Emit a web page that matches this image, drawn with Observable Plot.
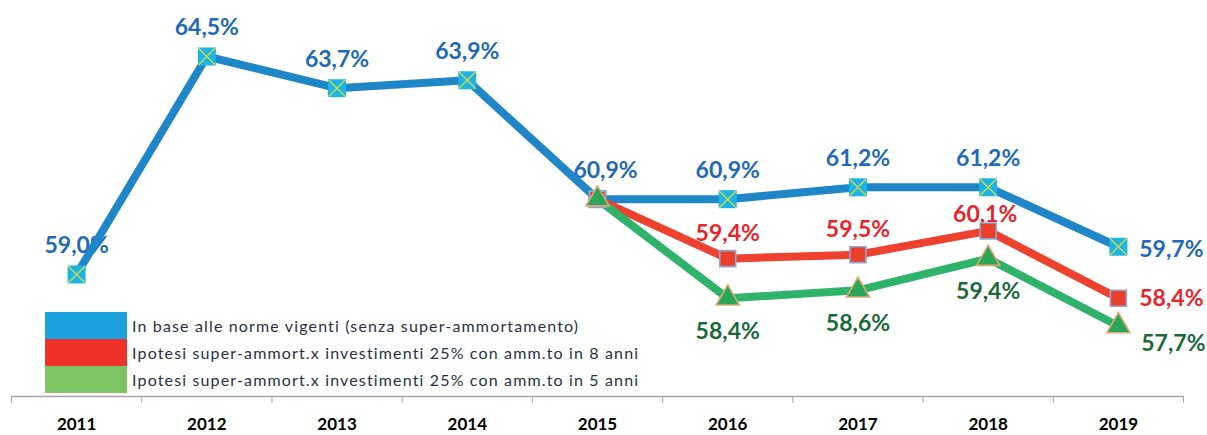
<!DOCTYPE html>
<html><head><meta charset="utf-8">
<script src="https://cdn.jsdelivr.net/npm/d3@7"></script>
<script src="https://cdn.jsdelivr.net/npm/@observablehq/plot@0.6"></script>
<style>
body{margin:0;background:#fff;font-family:Lato,sans-serif;}
#wrap{position:relative;width:1207px;height:435px;}
#legend{position:absolute;left:45px;top:312px;}
.row{display:flex;align-items:center;height:27px;}
.sw{width:82px;height:27px;}
.lab{margin-left:5px;font-size:16px;letter-spacing:1.15px;color:#2a3045;white-space:nowrap;}
</style></head><body><div id="wrap"><div id="legend"></div></div>
<script>
const years = [2011, 2012, 2013, 2014, 2015, 2016, 2017, 2018, 2019];
const baseValues = [59.0, 64.5, 63.7, 63.9, 60.9, 60.9, 61.2, 61.2, 59.7];
const hypYears = [2015, 2016, 2017, 2018, 2019];
const hyp8Values = [60.9, 59.4, 59.5, 60.1, 58.4];
const hyp5Values = [60.9, 58.4, 58.6, 59.4, 57.7];
const seriesNames = [
  "In base alle norme vigenti (senza super-ammortamento)",
  "Ipotesi super-ammort.x investimenti 25% con amm.to in 8 anni",
  "Ipotesi super-ammort.x investimenti 25% con amm.to in 5 anni"
];
const legendColors = ["#1ba1de", "#ee3129", "#7ec462"];
const boundaries = [2010.5, 2011.5, 2012.5, 2013.5, 2014.5, 2015.5, 2016.5, 2017.5, 2018.5, 2019.5];

const fmt = v => v.toFixed(1).replace(".", ",") + "%";
const yMin = 55.922, yMax = 65.913;
const base = years.map((x, i) => ({x, y: baseValues[i]}));
const h8 = hypYears.map((x, i) => ({x, y: hyp8Values[i]}));
const h5 = hypYears.map((x, i) => ({x, y: hyp5Values[i]}));
const lbl = {fontSize: 23, fontWeight: "bold", text: d => fmt(d.y), x: "x", y: "y"};
const blueC = "#2169b6", redC = "#e8242b", greenC = "#19693a";

const chart = Plot.plot({
  width: 1207, height: 435,
  marginTop: 0, marginBottom: 39, marginLeft: 11, marginRight: 24,
  x: {type: "linear", domain: [2010.5, 2019.5], label: null},
  y: {domain: [yMin, yMax], axis: null},
  style: {fontFamily: "Lato, sans-serif", background: "white"},
  marks: [
    Plot.ruleY([yMin], {stroke: "#a6a6a6", strokeWidth: 1.3}),
    Plot.axisX({ticks: boundaries, tickSize: 7, tickFormat: () => "", stroke: "#a6a6a6", label: null}),
    Plot.axisX({ticks: years, tickSize: 0, tickPadding: 21, tickFormat: d => String(d), fontSize: 17, fontWeight: "bold", fill: "#000", label: null}),
    // labels
    Plot.text(base.filter(d => d.x < 2019 && d.x !== 2015), {...lbl, dy: -29, fill: blueC}),
    Plot.text(base.filter(d => d.x === 2015), {...lbl, dy: -29, dx: 8, fill: blueC}),
    Plot.text(base.filter(d => d.x === 2019), {...lbl, dx: 53, dy: 3, fill: blueC}),
    Plot.text(h8.filter(d => d.x === 2016 || d.x === 2017), {...lbl, dy: -25, fill: redC}),
    Plot.text(h8.filter(d => d.x === 2018), {...lbl, dy: -16, dx: -3, fill: redC}),
    Plot.text(h8.filter(d => d.x === 2019), {...lbl, dx: 53, dy: 0, fill: redC}),
    Plot.text(h5.filter(d => d.x > 2015 && d.x < 2019), {...lbl, dy: 33, fill: greenC}),
    Plot.text(h5.filter(d => d.x === 2019), {...lbl, dx: 55, dy: 18, fill: greenC}),
    // lines
    Plot.line(base, {x: "x", y: "y", stroke: "#1f87c8", strokeWidth: 8}),
    Plot.line(h8, {x: "x", y: "y", stroke: "#ef4130", strokeWidth: 8}),
    Plot.line(h5, {x: "x", y: "y", stroke: "#2fb36b", strokeWidth: 8}),
    // markers
    Plot.dot(base, {x: "x", y: "y", symbol: "square", r: 10.16, fill: "#1cb4e6", stroke: "none"}),
    Plot.dot(base, {x: "x", y: "y", symbol: "times", r: 7.8, stroke: "#c8d94a", strokeWidth: 1.4}),
    Plot.dot(h8, {x: "x", y: "y", symbol: "square", r: 9.0, fill: "#ea3f2b", stroke: "#8fa6cf", strokeWidth: 1.6}),
    Plot.dot(h5, {x: "x", y: "y", symbol: "triangle", r: 8.6, fill: "#2aa65b", stroke: "#e0a774", strokeWidth: 1.6})
  ]
});
document.getElementById("wrap").prepend(chart);

const legend = document.getElementById("legend");
seriesNames.forEach((name, i) => {
  const row = document.createElement("div");
  row.className = "row";
  const sw = document.createElement("div");
  sw.className = "sw";
  sw.style.background = legendColors[i];
  const lab = document.createElement("span");
  lab.className = "lab";
  lab.textContent = name;
  row.append(sw, lab);
  legend.append(row);
});
</script></body></html>
